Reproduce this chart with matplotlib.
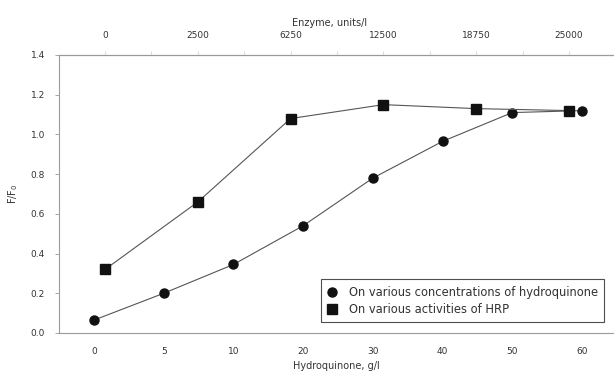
import matplotlib
matplotlib.use("Agg")
import matplotlib.pyplot as plt
from matplotlib.ticker import MultipleLocator

# Data
hq_labels = ["0", "5", "10", "20", "30", "40", "50", "60"]
hq_values = [0.065, 0.20, 0.345, 0.54, 0.78, 0.965, 1.11, 1.12]

enz_labels = ["0", "2500", "6250", "12500", "18750", "25000"]
enz_values = [0.32, 0.66, 1.08, 1.15, 1.13, 1.12]

y_ticks = [0.0, 0.2, 0.4, 0.6, 0.8, 1.0, 1.2, 1.4]

txt = "#333333"
spine = "#9a9a9a"
line_c = "#555555"

fig = plt.figure(figsize=(6.14, 3.76), dpi=100)
ax = fig.add_axes([59/614, 1-333/376, 1-59/614, (333-55)/376])

xb = list(range(len(hq_labels)))
l1, = ax.plot(xb, hq_values, color=line_c, lw=0.8, marker="o", ms=6.5,
              mfc="#111111", mec="#111111", label="On various concentrations of hydroquinone")
ax.set_xlim(-0.502, 7.46)
ax.set_ylim(0, 1.4)
ax.set_xticks(xb)
ax.set_xticklabels(hq_labels)
ax.set_yticks(y_ticks)
ax.set_yticklabels([f"{v:.1f}" for v in y_ticks])
ax.tick_params(axis="x", length=0, pad=10, labelsize=6.5, colors=txt)
ax.tick_params(axis="y", length=3, width=0.6, color=spine, pad=7, labelsize=6.5, labelcolor=txt)
ax.set_xlabel("Hydroquinone, g/l", fontsize=7, color=txt, labelpad=4)
ax.set_ylabel("F/F$_0$", fontsize=7, color=txt, labelpad=8)
ax.spines["right"].set_visible(False)
for s in ["left", "bottom", "top"]:
    ax.spines[s].set_color(spine)
    ax.spines[s].set_linewidth(0.8)

ax2 = ax.twiny()
xt = list(range(len(enz_labels)))
l2, = ax2.plot(xt, enz_values, color=line_c, lw=0.8, marker="s", ms=6.5,
               mfc="#111111", mec="#111111", label="On various activities of HRP")
ax2.set_xlim(-0.496, 5.485)
ax2.set_xticks(xt)
ax2.set_xticklabels(enz_labels)
ax2.xaxis.set_minor_locator(MultipleLocator(0.5))
ax2.tick_params(axis="x", which="major", length=3, width=0.5, color="#cccccc", pad=8,
                labelsize=6.5, labelcolor=txt)
ax2.tick_params(axis="x", which="minor", length=3, width=0.5, color="#cccccc")
ax2.set_xlabel("Enzyme, units/l", fontsize=7, color=txt, labelpad=6)
ax2.xaxis.set_label_coords((330-59)/555, 1.105)
ax2.spines["right"].set_visible(False)
ax2.spines["top"].set_color(spine)
ax2.spines["left"].set_visible(False)
ax2.spines["bottom"].set_visible(False)

leg = ax2.legend(handles=[l1, l2], loc="lower right", bbox_to_anchor=(604/614, 1-322/376),
                 bbox_transform=fig.transFigure, fontsize=8.3, frameon=True, fancybox=False,
                 edgecolor="#222222", handlelength=0.8, handletextpad=1.0, borderpad=0.55,
                 labelspacing=0.35, labelcolor=txt, borderaxespad=0)
for h in leg.legend_handles:
    h.set_linestyle("none")
leg.get_frame().set_linewidth(0.8)

fig.savefig("out.png", dpi=100, facecolor="white")
